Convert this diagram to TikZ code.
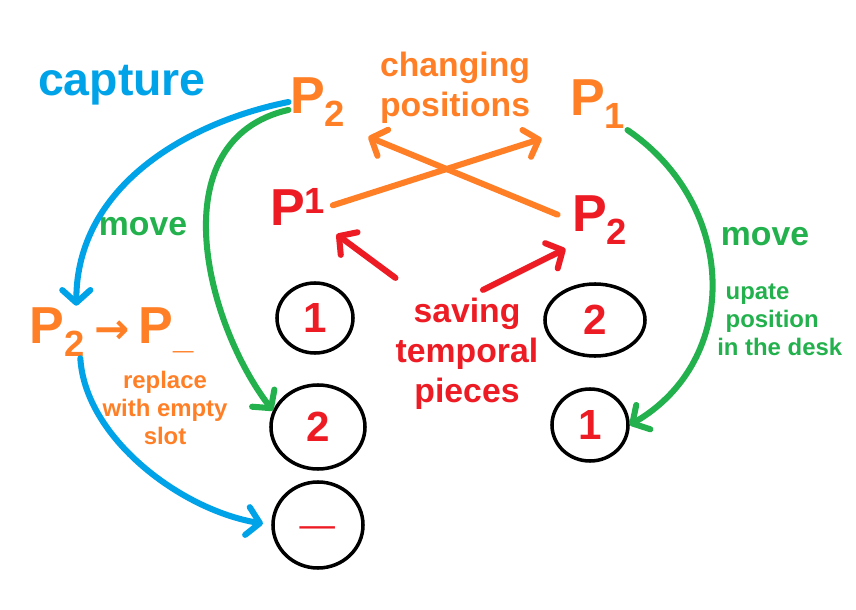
\documentclass[tikz,border=0pt]{standalone}
\usepackage{fontspec}
\setmainfont{Liberation Sans}
\newfontfamily\arrowfont{DejaVu Sans}
\usetikzlibrary{arrows.meta, shapes.geometric}
\definecolor{capblue}{HTML}{00A2E8}
\definecolor{swaporange}{HTML}{FF7F27}
\definecolor{movegreen}{HTML}{22B14C}
\definecolor{savered}{HTML}{ED1C24}

\begin{document}
\begin{tikzpicture}[
  x=0.025cm, y=-0.025cm,
  big/.style   = {font=\bfseries\fontsize{33}{36}\selectfont, inner sep=0pt},
  label/.style = {font=\bfseries\fontsize{24}{28.5}\selectfont, align=center, inner sep=0pt},
  note/.style  = {font=\bfseries\fontsize{17}{20}\selectfont, align=center, inner sep=0pt},
  piece/.style = {font=\bfseries\fontsize{37}{40}\selectfont, inner sep=1pt},
  slot/.style  = {ellipse, draw=black, line width=2.5pt, inner sep=0pt,
                  font=\bfseries\fontsize{30}{32}\selectfont, text=savered},
  pen/.style   = {line width=4.3pt, line cap=round,
                  -{Straight Barb[length=9pt, width=20pt, round]}},
]
\useasboundingbox (0,0) rectangle (856,610);

%% ---------------------------------------------------------------- texts
\node[big, capblue] (capture) at (122,85) {capture};
\node[label, swaporange] (changing) at (455,88) {changing\\positions};
\node[label, movegreen] (moveleft) at (143,227) {move};
\node[label, movegreen] (moveright) at (765,237) {move};
\node[note, movegreen, align=left, anchor=west] (update) at (717,320) {\hspace{6pt}upate\\\hspace{6pt}position\\in the desk};
\node[label, savered] (saving) at (467,354) {saving\\temporal\\pieces};
\node[note, swaporange] (replace) at (165,408) {replace\\with empty\\slot};

%% ---------------------------------------------------------------- pieces
\node[piece, swaporange] (ptwo) at (318,102) {P\textsubscript{2}};
\node[piece, swaporange] (pone) at (598,104) {P\textsubscript{1}};
\node[piece, savered] (tmpone) at (298,207) {P\textsuperscript{1}};
\node[piece, savered] (tmptwo) at (600,220) {P\textsubscript{2}};
\node[piece, swaporange] (swap) at (112,332) {P\textsubscript{2}\,{\arrowfont\fontsize{30}{30}\selectfont →}\,P\textsubscript{\_}};

%% ---------------------------------------------------------------- slots
\node[slot, minimum width=1.9cm, minimum height=1.75cm] (lone) at (315,318) {1};
\node[slot, minimum width=2.35cm, minimum height=2.1cm] (ltwo) at (318,427) {2};
\node[slot, minimum width=2.25cm, minimum height=2.15cm, font=\bfseries\fontsize{44}{44}\selectfont] (lempty) at (318,525) {\_};
\node[slot, minimum width=2.5cm, minimum height=1.8cm] (rtwo) at (595,320) {2};
\node[slot, minimum width=1.9cm, minimum height=1.8cm] (rone) at (590,425) {1};

%% ---------------------------------------------------------------- arrows
\draw[pen, capblue] (ptwo.west) .. controls +(-100,20) and +(0,-120) .. ([xshift=1.2cm]swap.north west);
\draw[pen, capblue, shorten >=6pt] ([xshift=1.3cm]swap.south west) .. controls +(5,80) and +(-90,-15) .. (lempty.west);
\draw[pen, movegreen] (ptwo.195) .. controls +(-130,30) and +(-67,-87) .. (ltwo.160);
\draw[pen, movegreen] (pone.south east) .. controls +(110,75) and +(112,-65) .. (rone.east);
\draw[pen, swaporange, shorten >=20pt, shorten <=4pt] (tmpone.east) -- (pone.south west);
\draw[pen, swaporange, shorten >=16pt, shorten <=10pt] (tmptwo.west) -- (ptwo.south east);
\draw[pen, savered, shorten >=8pt] ([yshift=0.5cm]saving.north west) -- (tmpone.south east);
\draw[pen, savered, shorten >=4pt] ([xshift=0.4cm, yshift=0.2cm]saving.north) -- (tmptwo.south west);
\end{tikzpicture}
\end{document}
